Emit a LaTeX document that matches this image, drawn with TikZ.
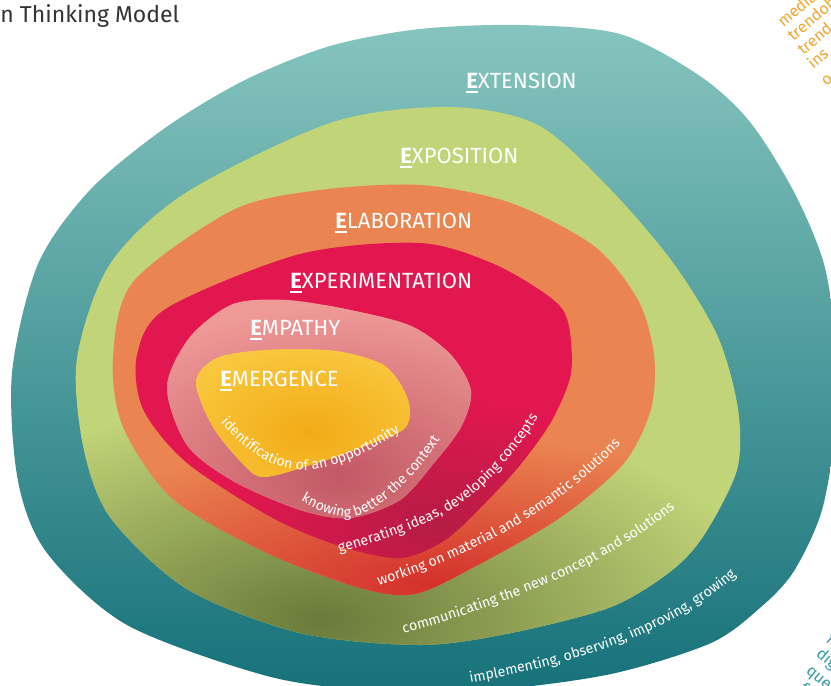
\documentclass[tikz,border=0pt]{standalone}
\usepackage{fontspec}
\setmainfont{Fira Sans}
\usetikzlibrary{decorations.text}

\definecolor{tealtop}{HTML}{8AC8C1}
\definecolor{tealbot}{HTML}{17727A}
\definecolor{greenbase}{HTML}{C1D478}
\definecolor{greendark}{HTML}{6A7A3A}
\definecolor{orangebase}{HTML}{EA8551}
\definecolor{orangedark}{HTML}{D4302A}
\definecolor{redbase}{HTML}{E3174F}
\definecolor{reddark}{HTML}{B51C44}
\definecolor{pinkbase}{HTML}{EF9A97}
\definecolor{pinkdark}{HTML}{C25864}
\definecolor{yellowbase}{HTML}{FCD24E}
\definecolor{yellowdark}{HTML}{F2AB16}
\definecolor{sidegold}{HTML}{EFA62D}
\definecolor{sideteal}{HTML}{3A9CA5}
\definecolor{titlegrey}{HTML}{333333}

\newlength\ewd
\newcommand\phase[1]{\settowidth{\ewd}{\textbf{E}}\textbf{E}\kern-\ewd\rule[-2.6pt]{\ewd}{1.1pt}#1}

\newcommand\extpath{plot[smooth cycle] coordinates {(520,25) (620,34) (700,76) (750,122) (794,192) (824,264) (836,345) (836,425) (822,510) (794,571) (761,607) (711,643) (611,674) (490,690) (370,690) (267,676) (127,625) (47,553) (18,481) (12,373) (38,264) (90,190) (165,128) (245,80) (330,46) (420,29)}}
\newcommand\exppath{plot[smooth cycle] coordinates {(450,107) (538,125) (611,190) (674,264) (718,337) (738,409) (737,470) (704,535) (671,571) (611,607) (511,633) (420,645) (300,633) (187,589) (110,517) (83,445) (77,358) (110,264) (187,192) (333,122)}}
\newcommand\elapath{plot[smooth cycle] coordinates {(420,185) (511,203) (594,246) (638,300) (654,355) (651,409) (624,463) (561,517) (478,565) (415,594) (360,588) (267,553) (173,499) (123,427) (113,358) (133,282) (233,210) (320,190)}}
\newcommand\exrpath{plot[smooth cycle] coordinates {(420,243) (494,264) (551,298) (568,322) (571,373) (552,420) (520,465) (483,505) (445,540) (400,558) (340,546) (273,518) (187,463) (143,409) (137,355) (167,308) (300,254)}}
\newcommand\empath{plot[smooth cycle] coordinates {(287,300) (350,310) (411,326) (451,355) (471,391) (461,427) (434,463) (400,500) (350,518) (300,510) (233,481) (187,445) (167,387) (190,337) (233,304)}}
\newcommand\emepath{plot[smooth cycle] coordinates {(267,350) (335,351) (385,366) (408,400) (405,428) (365,446) (317,463) (265,477) (245,466) (213,427) (196,382) (217,358)}}

\begin{document}
\begin{tikzpicture}[x=0.5pt,y=-0.5pt,
    phaselabel/.style={text=white,font=\fontsize{11}{11}\selectfont,inner sep=0pt,anchor=base west},
    curvetext/.style={decorate,decoration={text along path,text align=center,text color=white,
        text={|\fontsize{7.1}{7.1}\selectfont|#1}}},
    sidetext/.style={font=\fontsize{8}{8}\selectfont,inner sep=0pt,anchor=base west}]

    \useasboundingbox (0,0) rectangle (831,686);
    \fill[white] (0,0) rectangle (831,686);
    \clip (0,0) rectangle (831,686);

    % the six nested phases
    \begin{scope}
        \clip \extpath;
        \shade[top color=tealtop,bottom color=tealbot] (0,0) rectangle (831,686);
    \end{scope}
    \begin{scope}
        \clip \exppath;
        \fill[greenbase] (0,0) rectangle (831,686);
        \shade[inner color=greendark,outer color=greenbase] (320,620) ellipse [x radius=230pt,y radius=110pt];
    \end{scope}
    \begin{scope}
        \clip \elapath;
        \fill[orangebase] (0,0) rectangle (831,686);
        \shade[inner color=orangedark,outer color=orangebase] (430,585) ellipse [x radius=210pt,y radius=75pt];
    \end{scope}
    \begin{scope}
        \clip \exrpath;
        \fill[redbase] (0,0) rectangle (831,686);
        \shade[inner color=reddark,outer color=redbase] (440,525) ellipse [x radius=110pt,y radius=65pt];
    \end{scope}
    \begin{scope}
        \clip \empath;
        \fill[pinkbase] (0,0) rectangle (831,686);
        \shade[inner color=pinkdark,outer color=pinkbase] (340,475) ellipse [x radius=140pt,y radius=85pt];
    \end{scope}
    \begin{scope}
        \clip \emepath;
        \fill[yellowbase] (0,0) rectangle (831,686);
        \shade[inner color=yellowdark,outer color=yellowbase] (310,432) ellipse [x radius=100pt,y radius=60pt];
    \end{scope}

    % phase names
    \node[phaselabel] (extension) at (466,88) {\phase{XTENSION}};
    \node[phaselabel] (exposition) at (400,163) {\phase{XPOSITION}};
    \node[phaselabel] (elaboration) at (335,228) {\phase{LABORATION}};
    \node[phaselabel] (experimentation) at (290,288) {\phase{XPERIMENTATION}};
    \node[phaselabel] (empathy) at (250,335) {\phase{MPATHY}};
    \node[phaselabel] (emergence) at (220,386) {\phase{MERGENCE}};

    % descriptions along the lower rims
    \path[curvetext={identification of an opportunity}] (205,404) .. controls (238,445) and (265,468) .. (300,470) .. controls (340,472) and (390,440) .. (420,418);
    \path[curvetext={knowing better the context}] (272,484) .. controls (300,500) and (320,515) .. (345,517) .. controls (375,519) and (428,470) .. (456,410);
    \path[curvetext={generating ideas, developing concepts}] (316,559) .. controls (370,545) and (410,532) .. (444,514) .. controls (480,495) and (522,450) .. (550,396);
    \path[curvetext={working on material and semantic solutions}] (356,591) .. controls (405,580) and (450,560) .. (490,540) .. controls (540,515) and (602,470) .. (636,426);
    \path[curvetext={communicating the new concept and solutions}] (380,640) .. controls (450,622) and (510,600) .. (556,580) .. controls (605,558) and (652,530) .. (694,492);
    \path[curvetext={implementing, observing, improving, growing}] (440,688) .. controls (520,675) and (585,658) .. (633,638) .. controls (675,620) and (722,595) .. (758,553);

    % title and cut-off side notes
    \node[anchor=base west,inner sep=0pt,text=titlegrey,font=\fontsize{11.5}{11.5}\selectfont] (model) at (0,22) {n Thinking Model};

    \node[sidetext,text=sidegold,rotate=40] (media) at (783,28) {media};
    \node[sidetext,text=sidegold,rotate=40] (trendob) at (793,42) {trendob};
    \node[sidetext,text=sidegold,rotate=40] (trend) at (803,56) {trend};
    \node[sidetext,text=sidegold,rotate=40] (ins) at (813,70) {ins};
    \node[sidetext,text=sidegold,rotate=40] (o) at (826,87) {o};

    \node[sidetext,text=sideteal,rotate=-40] (f1) at (825,641) {f};
    \node[sidetext,text=sideteal,rotate=-40] (dig) at (815,655) {dig};
    \node[sidetext,text=sideteal,rotate=-40] (que) at (805,672) {que};
    \node[sidetext,text=sideteal,rotate=-40] (f2) at (798,690) {f};

\end{tikzpicture}
\end{document}
